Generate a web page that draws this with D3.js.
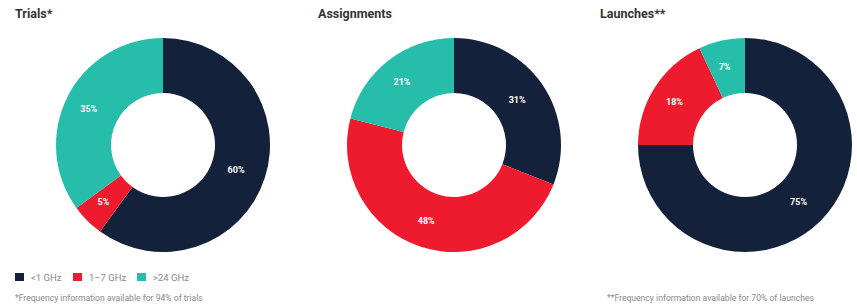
<html>
<head>
<style>
  body { margin: 0; background: #fff; font-family: Roboto, 'Open Sans', Arial; }
  .title { font-weight: bold; font-size: 12.5px; fill: #333; }
  .pct { font-weight: bold; font-size: 9px; fill: #fff; }
  .legend { font-size: 9.5px; fill: #888; }
  .note { font-size: 8.6px; fill: #888; }
</style>
</head>
<body>
<script src="https://cdn.jsdelivr.net/npm/d3@7"></script>
<script>

var width = 857;
var height = 306;

// chart data
var bands = ['<1 GHz', '1\u20137 GHz', '>24 GHz'];
var colors = ['#14213a', '#ee1b2e', '#27bdab'];
var titles = ['Trials*', 'Assignments', 'Launches**'];
var trials = [60, 5, 35];
var assignments = [31, 48, 21];
var launches = [75, 18, 7];
var notes = ['*Frequency information available for 94% of trials',
             '**Frequency information available for 70% of launches'];

var charts = [trials, assignments, launches];

var svg = d3.select('body').append('svg')
  .attr('width', width)
  .attr('height', height);

var centerX = d3.scalePoint().domain(titles).range([163, 745]);
var titleX = [15, 318, 600];
var color = d3.scaleOrdinal().domain(bands).range(colors);

var pie = d3.pie().sort(null);
var arc = d3.arc().innerRadius(52).outerRadius(107);
var labelArc = d3.arc().innerRadius(80).outerRadius(80);

charts.forEach(function (vals, i) {
  svg.append('text')
    .attr('class', 'title')
    .attr('x', titleX[i])
    .attr('y', 18)
    .text(titles[i]);

  var g = svg.append('g')
    .attr('transform', 'translate(' + centerX(titles[i]) + ',145)');

  var slices = pie(vals);

  g.selectAll('path')
    .data(slices)
    .enter().append('path')
    .attr('d', arc)
    .attr('fill', function (d, j) { return color(bands[j]); });

  g.selectAll('text')
    .data(slices)
    .enter().append('text')
    .attr('class', 'pct')
    .attr('text-anchor', 'middle')
    .attr('dy', '0.35em')
    .attr('transform', function (d) {
      var c = labelArc.centroid(d);
      return 'translate(' + (c[0] - 3) + ',' + c[1] + ')';
    })
    .text(function (d) { return d.data + '%'; });
});

// legend
var legendX = [15, 73, 137];
var lg = svg.selectAll('g.leg')
  .data(bands)
  .enter().append('g')
  .attr('class', 'leg')
  .attr('transform', function (d, i) { return 'translate(' + legendX[i] + ',273)'; });

lg.append('rect')
  .attr('width', 9)
  .attr('height', 8)
  .attr('fill', function (d) { return color(d); });

lg.append('text')
  .attr('class', 'legend')
  .attr('x', 16)
  .attr('y', 7.5)
  .text(function (d) { return d; });

svg.append('text').attr('class', 'note').attr('x', 15).attr('y', 301).text(notes[0]);
svg.append('text').attr('class', 'note').attr('x', 607).attr('y', 301).text(notes[1]);

</script>
</body>
</html>
